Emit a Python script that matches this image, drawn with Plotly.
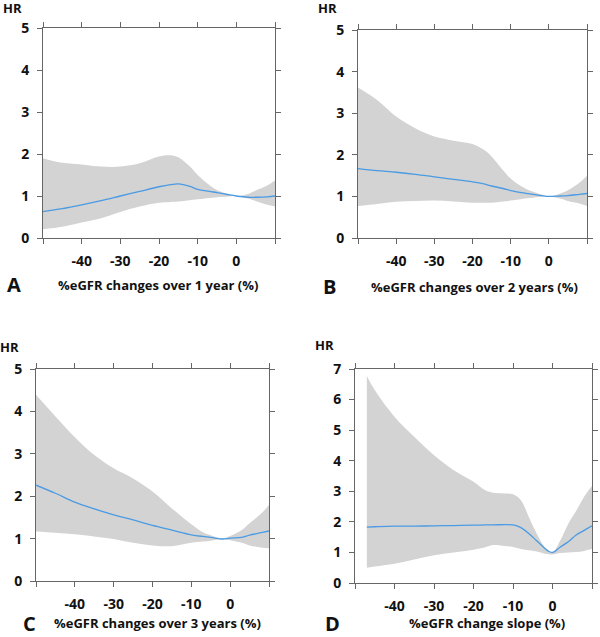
import plotly.graph_objects as go

W, H = 600, 637

# ---------- data ----------
a_x = [-50, -45, -40, -35, -30, -25, -20, -17, -15, -12, -10, -7, -5, -2, 0, 3, 5, 8, 10]
a_mean = [0.63, 0.70, 0.79, 0.89, 1.00, 1.11, 1.22, 1.27, 1.29, 1.23, 1.16, 1.11, 1.08, 1.03, 1.00, 0.97, 0.97, 0.98, 1.00]
a_upper = [1.90, 1.79, 1.75, 1.70, 1.70, 1.78, 1.94, 1.97, 1.92, 1.70, 1.50, 1.26, 1.14, 1.04, 1.00, 1.05, 1.13, 1.25, 1.37]
a_lower = [0.21, 0.27, 0.37, 0.47, 0.62, 0.75, 0.84, 0.86, 0.87, 0.90, 0.92, 0.95, 0.97, 0.99, 1.00, 0.94, 0.88, 0.79, 0.75]

b_x = [-50, -45, -40, -35, -30, -25, -20, -17, -15, -12, -10, -7, -5, -2, 0, 3, 5, 8, 10]
b_mean = [1.67, 1.62, 1.58, 1.53, 1.47, 1.41, 1.35, 1.30, 1.25, 1.19, 1.14, 1.09, 1.06, 1.02, 1.00, 1.01, 1.02, 1.05, 1.07]
b_upper = [3.62, 3.32, 2.92, 2.64, 2.44, 2.34, 2.26, 2.12, 1.96, 1.63, 1.43, 1.23, 1.14, 1.05, 1.00, 1.07, 1.15, 1.33, 1.49]
b_lower = [0.77, 0.82, 0.87, 0.89, 0.90, 0.88, 0.85, 0.85, 0.85, 0.88, 0.90, 0.94, 0.96, 0.99, 1.00, 0.95, 0.89, 0.83, 0.77]

c_x = [-50, -45, -40, -35, -30, -25, -20, -15, -10, -7, -5, -2, 0, 3, 5, 8, 10]
c_mean = [2.26, 2.07, 1.86, 1.70, 1.56, 1.44, 1.31, 1.20, 1.09, 1.05, 1.03, 0.99, 1.01, 1.03, 1.08, 1.14, 1.18]
c_upper = [4.39, 3.88, 3.39, 2.97, 2.66, 2.42, 2.11, 1.71, 1.34, 1.15, 1.08, 1.01, 1.06, 1.20, 1.36, 1.59, 1.79]
c_lower = [1.17, 1.14, 1.10, 1.05, 0.99, 0.90, 0.84, 0.82, 0.90, 0.93, 0.95, 0.99, 0.96, 0.90, 0.84, 0.79, 0.77]

d_x = [-47, -45, -40, -35, -30, -25, -20, -17, -15, -12, -10, -8, -6, -4, -2, -1, 0, 2, 4, 6, 8, 10]
d_mean = [1.83, 1.84, 1.86, 1.86, 1.87, 1.88, 1.89, 1.90, 1.90, 1.91, 1.90, 1.81, 1.62, 1.38, 1.14, 1.04, 1.00, 1.18, 1.35, 1.57, 1.72, 1.87]
d_upper = [6.77, 6.31, 5.44, 4.78, 4.18, 3.69, 3.31, 3.03, 2.95, 2.93, 2.90, 2.71, 2.16, 1.62, 1.18, 1.07, 1.00, 1.40, 1.94, 2.36, 2.82, 3.17]
d_lower = [0.50, 0.54, 0.63, 0.77, 0.91, 1.00, 1.09, 1.17, 1.24, 1.21, 1.18, 1.11, 1.07, 1.03, 0.96, 0.94, 0.93, 0.98, 1.00, 1.01, 1.05, 1.11]

x_tickvals = [-50, -40, -30, -20, -10, 0, 10]
x_ticktext = ["", "-40", "-30", "-20", "-10", "0", ""]

panels = [
    dict(x=a_x, mean=a_mean, up=a_upper, lo=a_lower, ymax=5, letter="A",
         title="%eGFR changes over 1 year (%)", box=(43, 275, 28, 238),
         hr=(12, 8), lab=(14, 158, 285)),
    dict(x=b_x, mean=b_mean, up=b_upper, lo=b_lower, ymax=5, letter="B",
         title="%eGFR changes over 2 years (%)", box=(358, 587, 30, 238),
         hr=(327, 8), lab=(329, 474, 287)),
    dict(x=c_x, mean=c_mean, up=c_upper, lo=c_lower, ymax=5, letter="C",
         title="%eGFR changes over 3 years (%)", box=(36, 269, 369, 581),
         hr=(9, 347), lab=(29, 158, 623)),
    dict(x=d_x, mean=d_mean, up=d_upper, lo=d_lower, ymax=7, letter="D",
         title="%eGFR change slope (%)", box=(355, 592, 369, 583),
         hr=(324, 345), lab=(332, 487, 623)),
]

FONT = "Open Sans"
AXIS_COLOR = "#666666"
FILL = "#d3d3d3"
LINE = "#4a9be3"

fig = go.Figure()
layout = dict(width=W, height=H, margin=dict(l=0, r=0, t=0, b=0, autoexpand=False),
              paper_bgcolor="white", plot_bgcolor="white", showlegend=False,
              font=dict(family=FONT, color="#111111"))
annotations = []

for i, p in enumerate(panels):
    n = "" if i == 0 else str(i + 1)
    xa, ya = "x" + n, "y" + n
    fig.add_trace(go.Scatter(x=p["x"], y=p["up"], mode="lines", line=dict(width=0, shape="spline"),
                             xaxis=xa, yaxis=ya, hoverinfo="skip"))
    fig.add_trace(go.Scatter(x=p["x"], y=p["lo"], mode="lines", line=dict(width=0, shape="spline"),
                             fill="tonexty", fillcolor=FILL, xaxis=xa, yaxis=ya, hoverinfo="skip"))
    fig.add_trace(go.Scatter(x=p["x"], y=p["mean"], mode="lines",
                             line=dict(color=LINE, width=1.3, shape="spline"),
                             xaxis=xa, yaxis=ya))
    x0, x1, y0, y1 = p["box"]
    common = dict(showgrid=False, zeroline=False, showline=True, linecolor=AXIS_COLOR,
                  linewidth=1, mirror="allticks", ticks="outside", ticklen=5,
                  tickcolor=AXIS_COLOR, tickwidth=1, automargin=False,
                  tickfont=dict(family=FONT, size=14, color="#111111", weight="bold"))
    layout["xaxis" + n] = dict(common, domain=[x0 / W, x1 / W], range=[-50, 10],
                               anchor=ya, tickmode="array", tickvals=x_tickvals,
                               ticktext=x_ticktext, ticklabelstandoff=5)
    layout["yaxis" + n] = dict(common, domain=[1 - y1 / H, 1 - y0 / H],
                               range=[0, p["ymax"]], anchor=xa, tickmode="linear",
                               tick0=0, dtick=1, ticklabelstandoff=5)
    hx, hy = p["hr"]
    annotations.append(dict(text="<b>HR</b>", x=hx / W, y=1 - hy / H, xref="paper", yref="paper",
                            showarrow=False, xanchor="center", yanchor="middle",
                            font=dict(family=FONT, size=13, color="#111111")))
    lx, tx, ty = p["lab"]
    annotations.append(dict(text="<b>" + p["letter"] + "</b>", x=lx / W, y=1 - ty / H,
                            xref="paper", yref="paper", showarrow=False,
                            xanchor="center", yanchor="middle",
                            font=dict(family=FONT, size=20, color="#111111")))
    annotations.append(dict(text="<b>" + p["title"] + "</b>", x=tx / W, y=1 - ty / H,
                            xref="paper", yref="paper", showarrow=False,
                            xanchor="center", yanchor="middle",
                            font=dict(family=FONT, size=13, color="#111111")))

layout["annotations"] = annotations
fig.update_layout(**layout)
fig.write_html("out.html", post_script="document.body.style.margin='0px';",
               config={"displayModeBar": False})
